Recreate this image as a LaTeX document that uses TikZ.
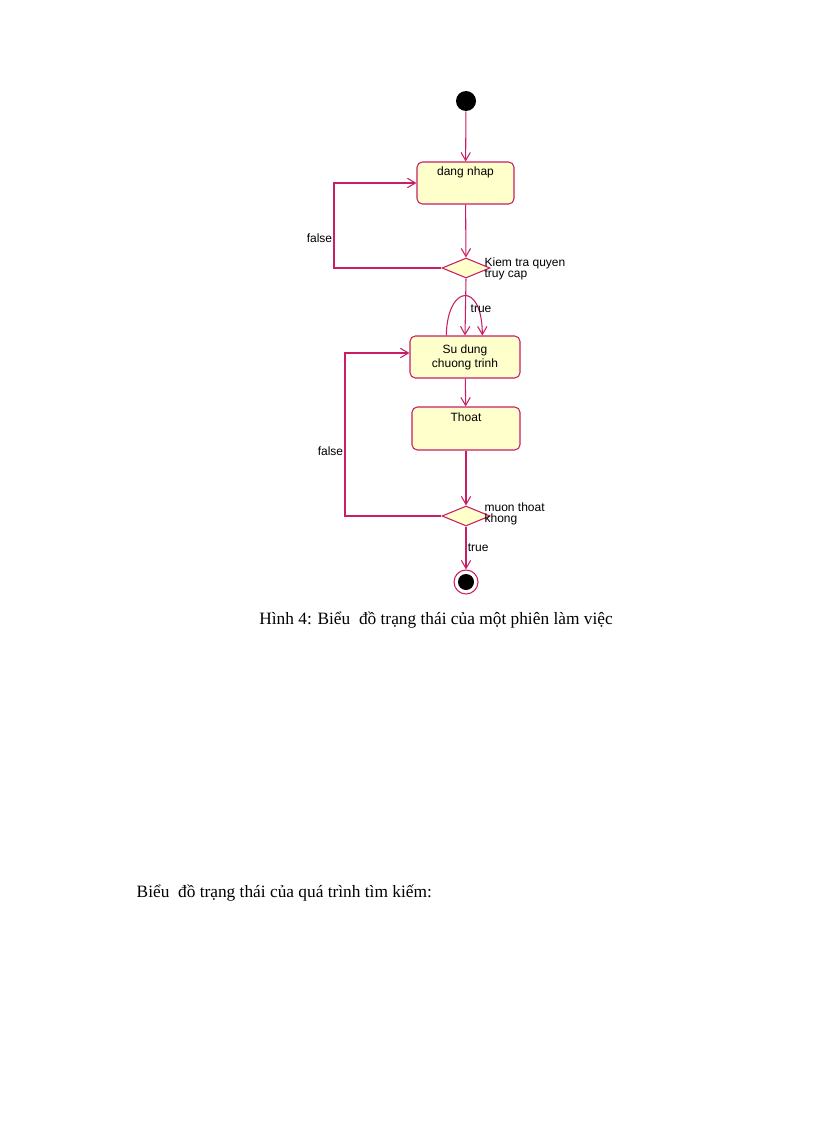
\documentclass[tikz,border=0pt]{standalone}
\usepackage{fontspec}
\setmainfont{Liberation Serif}
\newfontfamily\uml{Liberation Sans}
\usetikzlibrary{shapes.geometric,arrows.meta}
\definecolor{umlline}{RGB}{200,30,100}
\definecolor{umlfill}{RGB}{255,255,204}
\tikzset{
 st/.style={draw=umlline,fill=umlfill,rounded corners=4pt,minimum width=73.5pt,minimum height=31.5pt,font=\uml\fontsize{9}{10.5}\selectfont,align=center,line width=0.8pt},
 dec/.style={draw=umlline,fill=umlfill,diamond,minimum width=36pt,minimum height=15pt,inner sep=0pt,aspect=2.4,line width=0.8pt},
 con/.style={draw=umlline,line width=0.8pt,-{Straight Barb[length=6pt,width=7pt]}},
 lab/.style={font=\uml\fontsize{9}{10.5}\selectfont,align=left,inner sep=1pt}
}
\begin{document}
\begin{tikzpicture}[x=0.75pt,y=-0.75pt]
\useasboundingbox (0,0) rectangle (816,1123);
\node[circle,fill=black,minimum size=15pt,inner sep=0pt] (start) at (466,101) {};
\node[st,minimum width=72.75pt] (login) at (465.5,183) {};
\node[lab] at (465.5,172) {dang nhap};
\node[dec] (d1) at (466,268) {};
\node[lab,anchor=north west] at (483,256) {Kiem tra quyen\\[-2pt]truy cap};
\node[st,minimum width=82.5pt] (use) at (465,357) {Su dung\\chuong trinh};
\node[st,minimum width=81pt,minimum height=32.25pt] (exit) at (466,428.5) {};
\node[lab] at (466,417) {Thoat};
\node[dec] (d2) at (466,516) {};
\node[lab,anchor=north west] at (483,501) {muon thoat\\[-2pt]khong};
\node[circle,draw=umlline,line width=0.8pt,minimum size=18pt,inner sep=0pt] (end) at (466,582) {};
\node[circle,fill=black,minimum size=12pt,inner sep=0pt] at (end) {};
\draw[con] (start) -- (login);
\draw[con] (login) -- (d1);
\draw[con] (d1.west) -- (334,268) -- node[lab,left,pos=0.35]{false} (334,183) -- (login.west);
\draw[con] (d1.south) -- (use.north);
\draw[con] ([xshift=-14pt]use.north) .. controls (447,285) and (482,280) .. ([xshift=13pt]use.north);
\node[lab] at (481,309) {true};
\draw[con] (use) -- (exit);
\draw[con] (exit) -- (d2);
\draw[con] (d2.west) -- (345,516) -- node[lab,left,pos=0.4]{false} (345,353) -- ([yshift=3pt]use.west);
\draw[con] (d2) -- node[lab,right]{true} (end);
\node[font=\fontsize{13}{15}\selectfont] (cap) at (436,620) {Hình 4: Biểu~ đồ trạng thái của một phiên làm việc};
\node[font=\fontsize{13}{15}\selectfont,anchor=west] (txt) at (132,893) {Biểu~ đồ trạng thái của quá trình tìm kiếm:};
\end{tikzpicture}
\end{document}
